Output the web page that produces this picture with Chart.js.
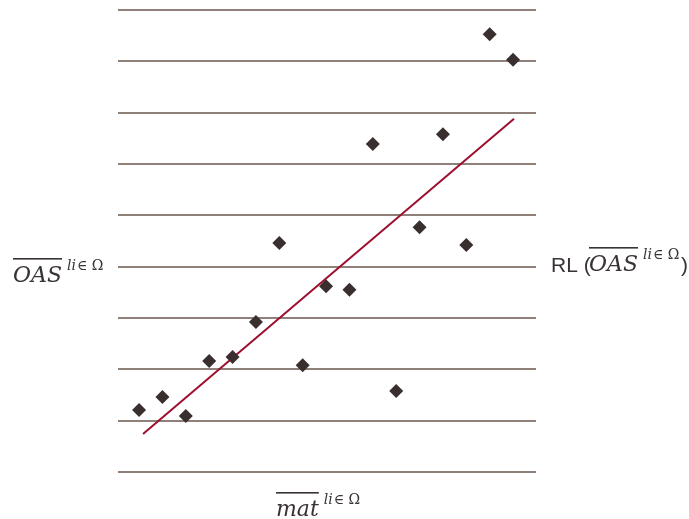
<!DOCTYPE html>
<html>
<head>
<meta charset="utf-8">
<script src="https://cdn.jsdelivr.net/npm/chart.js@4/dist/chart.umd.min.js"></script>
<style>
  html, body { margin: 0; padding: 0; background: #fff; }
  #wrap { width: 689px; height: 519px; }
</style>
</head>
<body>
<div id="wrap"><canvas id="scatterChart"></canvas></div>
<script>
// data
const matValues = [1, 2, 3, 4, 5, 6, 7, 8, 9, 10, 11, 12, 13, 14, 15, 16, 17];
const oasValues = [1.21, 1.46, 1.09, 2.16, 2.24, 2.92, 4.46, 2.08, 3.62, 3.55, 6.39, 1.58, 4.77, 6.58, 4.42, 8.53, 8.03];
const fitX = [1.17, 17.04];
const fitY = [0.74, 6.88];

const textColor = "#3a3333";

const points = matValues.map((x, i) => ({ x: x, y: oasValues[i] }));
const fitLine = fitX.map((x, i) => ({ x: x, y: fitY[i] }));

// draws a symbol with an overline and a superscript, returns end x
function barSymbol(ctx, word, x, y) {
  ctx.font = "italic 22px 'DejaVu Serif'";
  ctx.fillStyle = textColor;
  ctx.textBaseline = "alphabetic";
  ctx.textAlign = "left";
  ctx.fillText(word, x, y);
  var w = ctx.measureText(word).width;
  ctx.fillRect(x, y - 24, w, 1.6);
  ctx.font = "italic 14px 'DejaVu Serif'";
  ctx.fillText("li", x + w + 5, y - 12);
  var lw = ctx.measureText("li").width;
  ctx.font = "14px 'DejaVu Serif'";
  ctx.fillText("\u2208 \u03A9", x + w + 6 + lw, y - 12);
  return x + w + 6 + lw + ctx.measureText("\u2208 \u03A9").width;
}

const labelPlugin = {
  id: "labels",
  afterDraw(chart) {
    const ctx = chart.ctx;
    ctx.save();
    barSymbol(ctx, "OAS", 13, 282);
    ctx.font = "21px 'Liberation Sans'";
    ctx.fillStyle = textColor;
    ctx.fillText("RL (", 551, 272);
    barSymbol(ctx, "OAS", 589, 271);
    ctx.font = "21px 'Liberation Sans'";
    ctx.fillStyle = textColor;
    ctx.fillText(")", 681, 272);
    barSymbol(ctx, "mat", 276, 516);
    ctx.restore();
  }
};

new Chart("scatterChart", {
  type: "scatter",
  data: {
    datasets: [{
      data: points,
      pointStyle: "rectRot",
      pointRadius: 7,
      pointBackgroundColor: "#3a2f2f",
      pointBorderColor: "#3a2f2f",
      pointBorderWidth: 0
    }, {
      type: "line",
      data: fitLine,
      borderColor: "#9c0f2e",
      borderWidth: 2,
      pointRadius: 0,
      fill: false
    }]
  },
  plugins: [labelPlugin],
  options: {
    responsive: true,
    maintainAspectRatio: false,
    animation: false,
    layout: { padding: { left: 118, right: 153, top: 10, bottom: 47 } },
    plugins: { legend: { display: false }, tooltip: { enabled: false } },
    scales: {
      x: {
        type: "linear",
        display: false,
        min: 0.1,
        max: 17.98
      },
      y: {
        min: 0,
        max: 9,
        ticks: { display: false, stepSize: 1 },
        grid: { color: "#8f817a", lineWidth: 2, drawTicks: false },
        border: { display: false }
      }
    }
  }
});
</script>
</body>
</html>
